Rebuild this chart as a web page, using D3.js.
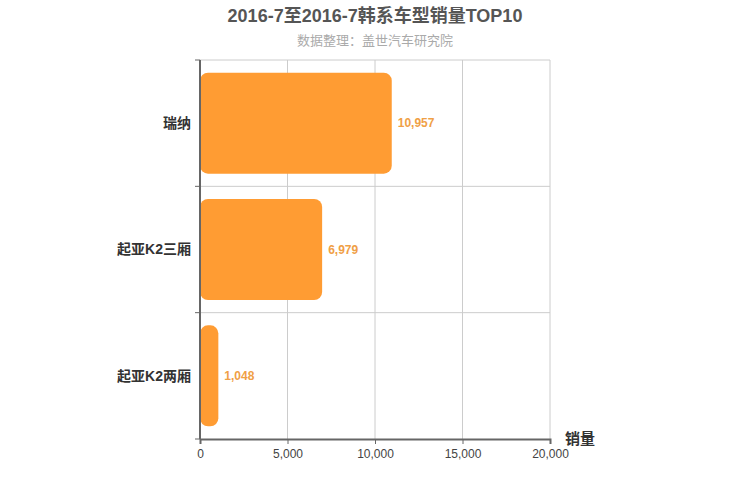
<!DOCTYPE html>
<html>
<head>
<meta charset="utf-8">
<script src="https://cdn.jsdelivr.net/npm/d3@7"></script>
<style>
  body { margin: 0; background: #fff; }
  text { font-family: "Liberation Sans", Arial, "Noto Sans CJK SC", sans-serif; }
</style>
</head>
<body>
<div id="chart"></div>
<script>
// data
const models = ["瑞纳", "起亚K2三厢", "起亚K2两厢"];
const sales = [10957, 6979, 1048];
const xTicks = [0, 5000, 10000, 15000, 20000];

const titleText = "2016-7至2016-7韩系车型销量TOP10";
const subText = "数据整理：盖世汽车研究院";

const W = 750, H = 500;
const margin = {top: 60, right: 200, bottom: 61, left: 200};
const width = W - margin.left - margin.right;
const height = H - margin.top - margin.bottom;

const svg = d3.select("#chart").append("svg")
    .attr("width", W).attr("height", H);

svg.append("text")
    .attr("x", W / 2).attr("y", 22)
    .attr("text-anchor", "middle")
    .attr("font-size", 18).attr("font-weight", "bold")
    .attr("fill", "#555")
    .text(titleText);

svg.append("text")
    .attr("x", W / 2).attr("y", 45)
    .attr("text-anchor", "middle")
    .attr("font-size", 13)
    .attr("fill", "#aaa")
    .text(subText);

const g = svg.append("g")
    .attr("transform", `translate(${margin.left},${margin.top})`);

const x = d3.scaleLinear().domain([0, 20000]).range([0, width]);
const y = d3.scaleBand().domain(models).range([0, height]);

// grid
g.append("g").selectAll("line").data(xTicks).join("line")
    .attr("x1", d => x(d)).attr("x2", d => x(d))
    .attr("y1", 0).attr("y2", height)
    .attr("stroke", "#ccc");

g.append("g").selectAll("line").data(models).join("line")
    .attr("x1", 0).attr("x2", width)
    .attr("y1", d => y(d)).attr("y2", d => y(d))
    .attr("stroke", "#ccc");

// bars
const pad = y.bandwidth() * 0.1;
g.append("g").selectAll("rect").data(models).join("rect")
    .attr("x", x(0))
    .attr("y", d => y(d) + pad)
    .attr("width", (d, i) => x(sales[i]) - x(0))
    .attr("height", y.bandwidth() - 2 * pad)
    .attr("rx", 8).attr("ry", 8)
    .attr("fill", "#ff9c33");

// value labels
g.append("g").selectAll("text").data(models).join("text")
    .attr("x", (d, i) => x(sales[i]) + 6)
    .attr("y", d => y(d) + y.bandwidth() / 2)
    .attr("dy", "0.35em")
    .attr("font-size", 12).attr("font-weight", "bold")
    .attr("fill", "#f0a046")
    .text((d, i) => d3.format(",")(sales[i]));

// x axis
const xAxis = g.append("g")
    .attr("transform", `translate(0,${height})`)
    .call(d3.axisBottom(x).tickValues(xTicks).tickFormat(d3.format(",")).tickSizeOuter(0).tickSize(5));
xAxis.select(".domain").attr("stroke", "#666").attr("stroke-width", 2);
xAxis.selectAll(".tick line").attr("stroke", "#666");
xAxis.selectAll(".tick text").attr("font-size", 12).attr("fill", "#444")
    .attr("font-family", "Liberation Sans, Arial, sans-serif").attr("dy", "0.95em");

// y axis (ticks on band boundaries)
const yAxis = g.append("g");
yAxis.append("line")
    .attr("x1", 0).attr("x2", 0).attr("y1", 0).attr("y2", height)
    .attr("stroke", "#666").attr("stroke-width", 2);
yAxis.selectAll("line.tk").data([...models.map(d => y(d)), height]).join("line")
    .attr("class", "tk")
    .attr("x1", -5).attr("x2", 0)
    .attr("y1", d => d).attr("y2", d => d)
    .attr("stroke", "#666");
yAxis.selectAll("text").data(models).join("text")
    .attr("x", -9)
    .attr("y", d => y(d) + y.bandwidth() / 2)
    .attr("dy", "0.35em")
    .attr("text-anchor", "end")
    .attr("font-size", 14).attr("font-weight", "bold")
    .attr("fill", "#333")
    .text(d => d);

// axis name
g.append("text")
    .attr("x", width + 15).attr("y", height + 5)
    .attr("font-size", 15).attr("font-weight", "bold")
    .attr("fill", "#333")
    .text("销量");
</script>
</body>
</html>
